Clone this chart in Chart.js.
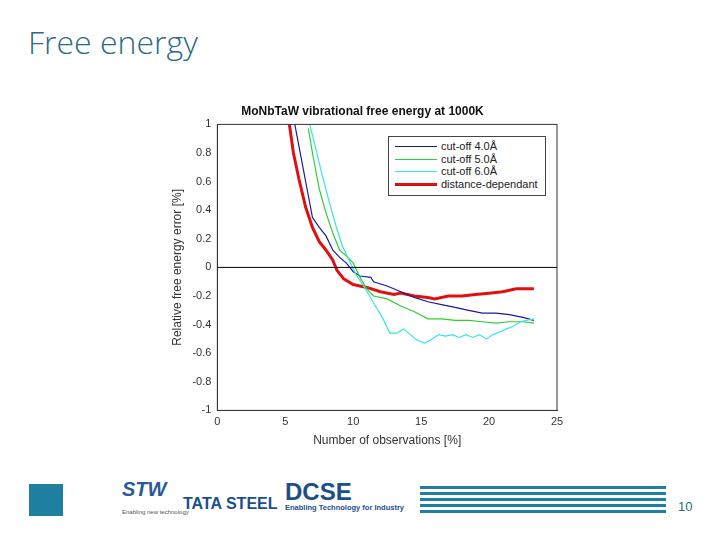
<!DOCTYPE html>
<html><head><meta charset="utf-8">
<script src="https://cdn.jsdelivr.net/npm/chart.js"></script>
<style>
body{margin:0;width:720px;height:540px;background:#fff;position:relative;font-family:"Liberation Sans",Arial,sans-serif;overflow:hidden}
#t{position:absolute;left:28px;top:20px;font:32px "Open Sans",sans-serif;color:#2b6a86;font-weight:300}
#wrap{position:absolute;left:168px;top:102px;width:401px;height:346px}
#leg{position:absolute;left:388px;top:136px;width:156px;height:58px;border:1px solid #444;background:#fff;font-size:11px;color:#222}
#leg div{height:12.5px;line-height:12.5px;position:relative;padding-left:52px}
#leg span{position:absolute;left:6px;top:6px;width:42px}
.pg{position:absolute;left:678px;top:499px;color:#2b6a86;font-size:13px}
</style></head><body>
<div id="t">Free energy</div>
<div id="wrap"><canvas id="c" width="401" height="346"></canvas></div>
<div id="leg">
<div style="margin-top:3px"><span style="border-top:1px solid #1a1aa0"></span>cut-off 4.0Å</div>
<div><span style="border-top:1px solid #33cc33"></span>cut-off 5.0Å</div>
<div><span style="border-top:1px solid #33e5e5"></span>cut-off 6.0Å</div>
<div><span style="border-top:3px solid #e01010;top:5px"></span>distance-dependant</div>
</div>
<div style="position:absolute;left:29px;top:484px;width:34px;height:32px;background:#1e7fa0"></div>
<div style="position:absolute;left:122px;top:478px;font:bold italic 20px 'Liberation Sans';color:#2a5a9a">STW</div>
<div style="position:absolute;left:122px;top:509px;font:6px 'Liberation Sans';color:#555">Enabling new technology</div>
<div style="position:absolute;left:183px;top:495px;font:bold 16px 'Liberation Sans';color:#1a4f8a">TATA STEEL</div>
<div style="position:absolute;left:285px;top:478px;font:bold 24px 'Liberation Sans';color:#1a4f8a">DCSE</div>
<div style="position:absolute;left:285px;top:503px;font:bold 7.5px 'Liberation Sans';color:#1a4f8a">Enabling Technology for Industry</div>
<div style="position:absolute;left:420px;top:486px;width:246px;height:30px;background:repeating-linear-gradient(180deg,#1e7fa0 0 3px,#fff 3px 6px)"></div>
<div class="pg">10</div>
<script>
const xTicks=[0,5,10,15,20,25];
const yTicks=[1,0.8,0.6,0.4,0.2,0,-0.2,-0.4,-0.6,-0.8,-1];
const blueX=[5.7,6.2,6.6,7,7.5,8,8.5,9,9.5,10,10.5,11.3,11.5,12.5,13.5,14.5,15.5,16.5,17.5,18.5,19.5,20.5,21.5,22.5,23.3];
const blueY=[1,0.75,0.55,0.35,0.28,0.22,0.12,0.07,0.03,-0.03,-0.06,-0.07,-0.1,-0.13,-0.17,-0.21,-0.24,-0.26,-0.28,-0.3,-0.32,-0.32,-0.33,-0.35,-0.37];
const greenX=[6.7,7,7.5,8,8.5,9,9.5,10,10.5,11,11.5,12.5,13.5,14.5,15.5,16.5,17.5,18.5,19.5,20.5,21.5,22.5,23.3];
const greenY=[0.97,0.8,0.55,0.38,0.24,0.12,0.08,0.03,-0.07,-0.15,-0.2,-0.22,-0.27,-0.31,-0.36,-0.36,-0.37,-0.37,-0.38,-0.39,-0.38,-0.38,-0.39];
const cyanX=[6.8,7.2,7.7,8.2,8.7,9.2,9.7,10.2,10.7,11.2,11.7,12.2,12.7,13.2,13.7,14.2,14.7,15.3,15.8,16.3,16.8,17.3,17.8,18.3,18.8,19.3,19.8,20.3,20.8,21.3,21.8,22.3,23.3];
const cyanY=[1,0.85,0.65,0.47,0.3,0.15,0.05,-0.05,-0.12,-0.2,-0.28,-0.36,-0.46,-0.46,-0.43,-0.47,-0.51,-0.53,-0.5,-0.47,-0.48,-0.47,-0.49,-0.47,-0.49,-0.47,-0.5,-0.47,-0.45,-0.43,-0.41,-0.38,-0.36];
const redX=[5.3,5.6,6,6.5,7,7.5,8,8.5,8.8,9.3,10,11,12,13,13.5,14.5,15.5,16,17,18,19,20,21,22,23.3];
const redY=[1,0.8,0.62,0.42,0.28,0.18,0.12,0.05,-0.02,-0.08,-0.12,-0.14,-0.17,-0.19,-0.18,-0.2,-0.21,-0.22,-0.2,-0.2,-0.19,-0.18,-0.17,-0.15,-0.15];
const zeroX=[0,25], zeroY=[0,0];
const pts=(xs,ys)=>xs.map((x,i)=>({x,y:ys[i]}));
const ds=(xs,ys,c,w)=>({data:pts(xs,ys),borderColor:c,borderWidth:w,pointRadius:0,tension:0,fill:false});
new Chart(document.getElementById('c'),{type:'line',
data:{datasets:[ds(zeroX,zeroY,'#000',1),ds(cyanX,cyanY,'#33e5e5',1.2),ds(greenX,greenY,'#33cc33',1.2),ds(blueX,blueY,'#1a1aa0',1.2),ds(redX,redY,'#e01010',3)]},
options:{responsive:false,animation:false,devicePixelRatio:1,
layout:{padding:{right:12}},
plugins:{legend:{display:false},tooltip:{enabled:false},
title:{display:true,text:'MoNbTaW vibrational free energy at 1000K',font:{size:12,weight:'bold',family:'Liberation Sans'},color:'#111',padding:{top:2,bottom:6}}},
scales:{
x:{type:'linear',min:0,max:25,afterBuildTicks:a=>{a.ticks=xTicks.map(v=>({value:v}))},grid:{display:false,drawTicks:false},border:{color:'#333'},ticks:{autoSkip:false,maxRotation:0,color:'#333',font:{size:11},padding:5},
 title:{display:true,text:'Number of observations [%]',color:'#333',font:{size:12},padding:0}},
y:{min:-1,max:1,afterBuildTicks:a=>{a.ticks=yTicks.map(v=>({value:v}))},grid:{display:false,drawTicks:false},border:{color:'#333'},ticks:{autoSkip:false,color:'#333',font:{size:11},padding:6,callback:v=>String(v)},
 title:{display:true,text:'Relative free energy error [%]',color:'#333',font:{size:12},padding:2}}
}},
plugins:[{id:'box',afterDraw(c){const a=c.chartArea,g=c.ctx;g.save();g.strokeStyle='#333';g.lineWidth=1;g.strokeRect(a.left,a.top,a.right-a.left,a.bottom-a.top);g.restore();}}]
});
</script>
</body></html>
